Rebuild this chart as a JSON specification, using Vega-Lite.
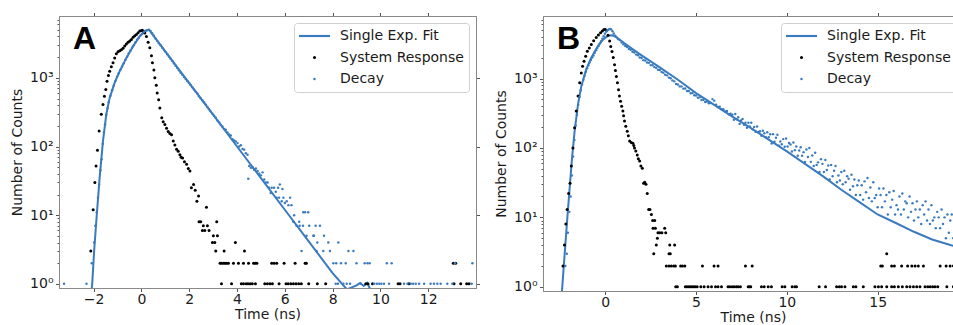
{
  "$schema": "https://vega.github.io/schema/vega-lite/v6.json",
  "padding": {"left": 10, "top": 11, "right": 0, "bottom": 0},
  "spacing": 13,
  "config": {
    "font": "DejaVu Sans",
    "view": {"stroke": "#888"},
    "axis": {"labelFont": "DejaVu Sans", "labelFontSize": 14, "labelColor": "#1a1a1a", "titleFont": "DejaVu Sans", "titleFontSize": 14, "titleFontWeight": "normal", "titleColor": "#1a1a1a", "tickColor": "#555", "tickSize": 3.5, "domainColor": "#888", "grid": false, "labelPadding": 2.5},
    "legend": {"orient": "top-right", "offset": 7, "padding": 5, "labelFont": "DejaVu Sans", "labelFontSize": 14, "labelColor": "#1a1a1a", "labelOffset": 10, "clipHeight": 16, "rowPadding": 5.5, "strokeColor": "#d0d0d0", "fillColor": "#ffffff", "cornerRadius": 3, "symbolStrokeWidth": 0},
    "title": {"font": "Liberation Sans", "fontSize": 32, "fontWeight": "bold", "color": "#000", "anchor": "start", "frame": "group", "baseline": "alphabetic", "offset": 0}
  },
  "datasets": {
    "A_fit": [
      {"time": -2.09, "counts": 0.8}, {"time": -2.06, "counts": 1}, {"time": -1.98, "counts": 3}, {"time": -1.87, "counts": 10}, {"time": -1.75, "counts": 35}, {"time": -1.61, "counts": 120}, {"time": -1.47, "counts": 295}, {"time": -1.33, "counts": 510}, {"time": -1.12, "counts": 850}, {"time": -0.91, "counts": 1250}, {"time": -0.63, "counts": 1950}, {"time": -0.35, "counts": 2880}, {"time": -0.07, "counts": 4050}, {"time": 0.1, "counts": 4600}, {"time": 0.21, "counts": 4900}, {"time": 0.32, "counts": 5000}, {"time": 0.5, "counts": 4120}, {"time": 0.77, "counts": 3090}, {"time": 1.5, "counts": 1424}, {"time": 2.0, "counts": 838}, {"time": 3.0, "counts": 290}, {"time": 4.0, "counts": 100}, {"time": 5.0, "counts": 34.7}, {"time": 6.0, "counts": 12}, {"time": 7.0, "counts": 4.15}, {"time": 8.0, "counts": 1.43}, {"time": 8.6, "counts": 0.83}, {"time": 9.0, "counts": 0.95}, {"time": 9.15, "counts": 1.03}, {"time": 9.3, "counts": 0.93}, {"time": 9.45, "counts": 1.03}, {"time": 9.6, "counts": 0.8}
    ],
    "A_pts": [
      {"series": "System Response", "time": -2.12, "counts": 3}, {"series": "System Response", "time": -2.02, "counts": 12}, {"series": "System Response", "time": -1.95, "counts": 30}, {"series": "System Response", "time": -1.9, "counts": 52}, {"series": "System Response", "time": -1.84, "counts": 88}, {"series": "System Response", "time": -1.77, "counts": 168}, {"series": "System Response", "time": -1.68, "counts": 294}, {"series": "System Response", "time": -1.61, "counts": 409}, {"series": "System Response", "time": -1.55, "counts": 540}, {"series": "System Response", "time": -1.49, "counts": 676}, {"series": "System Response", "time": -1.44, "counts": 895}, {"series": "System Response", "time": -1.38, "counts": 1080}, {"series": "System Response", "time": -1.33, "counts": 1250}, {"series": "System Response", "time": -1.26, "counts": 1450}, {"series": "System Response", "time": -1.19, "counts": 1660}, {"series": "System Response", "time": -1.12, "counts": 1950}, {"series": "System Response", "time": -1.05, "counts": 2240}, {"series": "System Response", "time": -0.98, "counts": 2400}, {"series": "System Response", "time": -0.91, "counts": 2480}, {"series": "System Response", "time": -0.84, "counts": 2570}, {"series": "System Response", "time": -0.77, "counts": 2700}, {"series": "System Response", "time": -0.7, "counts": 2900}, {"series": "System Response", "time": -0.63, "counts": 3100}, {"series": "System Response", "time": -0.56, "counts": 3300}, {"series": "System Response", "time": -0.49, "counts": 3450}, {"series": "System Response", "time": -0.42, "counts": 3630}, {"series": "System Response", "time": -0.35, "counts": 3900}, {"series": "System Response", "time": -0.28, "counts": 4100}, {"series": "System Response", "time": -0.21, "counts": 4270}, {"series": "System Response", "time": -0.14, "counts": 4550}, {"series": "System Response", "time": -0.07, "counts": 4790}, {"series": "System Response", "time": 0.0, "counts": 4900}, {"series": "System Response", "time": 0.04, "counts": 4950}, {"series": "System Response", "time": 0.1, "counts": 4700}, {"series": "System Response", "time": 0.14, "counts": 4500}, {"series": "System Response", "time": 0.21, "counts": 4000}, {"series": "System Response", "time": 0.28, "counts": 3300}, {"series": "System Response", "time": 0.35, "counts": 2750}, {"series": "System Response", "time": 0.42, "counts": 2100}, {"series": "System Response", "time": 0.46, "counts": 1660}, {"series": "System Response", "time": 0.52, "counts": 1300}, {"series": "System Response", "time": 0.56, "counts": 1000}, {"series": "System Response", "time": 0.62, "counts": 780}, {"series": "System Response", "time": 0.66, "counts": 600}, {"series": "System Response", "time": 0.72, "counts": 480}, {"series": "System Response", "time": 0.77, "counts": 365}, {"series": "System Response", "time": 0.85, "counts": 263}, {"series": "System Response", "time": 0.91, "counts": 230}, {"series": "System Response", "time": 0.98, "counts": 209}, {"series": "System Response", "time": 1.05, "counts": 185}, {"series": "System Response", "time": 1.12, "counts": 166}, {"series": "System Response", "time": 1.19, "counts": 155}, {"series": "System Response", "time": 1.26, "counts": 148}, {"series": "System Response", "time": 1.33, "counts": 120}, {"series": "System Response", "time": 1.4, "counts": 105}, {"series": "System Response", "time": 1.47, "counts": 91}, {"series": "System Response", "time": 1.54, "counts": 85}, {"series": "System Response", "time": 1.61, "counts": 76}, {"series": "System Response", "time": 1.66, "counts": 70}, {"series": "System Response", "time": 1.72, "counts": 68}, {"series": "System Response", "time": 1.8, "counts": 60}, {"series": "System Response", "time": 1.89, "counts": 55}, {"series": "System Response", "time": 1.96, "counts": 48}, {"series": "System Response", "time": 2.03, "counts": 44}, {"series": "System Response", "time": 2.09, "counts": 25}, {"series": "System Response", "time": 2.18, "counts": 28}, {"series": "System Response", "time": 2.25, "counts": 23}, {"series": "System Response", "time": 2.32, "counts": 16}, {"series": "System Response", "time": 2.39, "counts": 19}, {"series": "System Response", "time": 2.41, "counts": 8}, {"series": "System Response", "time": 2.48, "counts": 8}, {"series": "System Response", "time": 2.55, "counts": 6}, {"series": "System Response", "time": 2.59, "counts": 7}, {"series": "System Response", "time": 2.65, "counts": 6}, {"series": "System Response", "time": 2.72, "counts": 13}, {"series": "System Response", "time": 2.76, "counts": 7}, {"series": "System Response", "time": 2.83, "counts": 6}, {"series": "System Response", "time": 2.97, "counts": 4}, {"series": "System Response", "time": 3.01, "counts": 5}, {"series": "System Response", "time": 3.07, "counts": 4}, {"series": "System Response", "time": 3.11, "counts": 3}, {"series": "System Response", "time": 3.15, "counts": 8}, {"series": "System Response", "time": 3.18, "counts": 5}, {"series": "System Response", "time": 3.46, "counts": 3}, {"series": "System Response", "time": 3.93, "counts": 4}, {"series": "System Response", "time": 4.31, "counts": 3},
      {"series": "System Response", "time": 3.29, "counts": 2}, {"series": "System Response", "time": 3.36, "counts": 2}, {"series": "System Response", "time": 3.43, "counts": 2}, {"series": "System Response", "time": 3.5, "counts": 2}, {"series": "System Response", "time": 3.57, "counts": 2}, {"series": "System Response", "time": 3.64, "counts": 2}, {"series": "System Response", "time": 3.85, "counts": 2}, {"series": "System Response", "time": 4.06, "counts": 2}, {"series": "System Response", "time": 4.27, "counts": 2}, {"series": "System Response", "time": 4.48, "counts": 2}, {"series": "System Response", "time": 4.69, "counts": 2}, {"series": "System Response", "time": 4.76, "counts": 2}, {"series": "System Response", "time": 4.83, "counts": 2}, {"series": "System Response", "time": 5.45, "counts": 2}, {"series": "System Response", "time": 5.55, "counts": 2}, {"series": "System Response", "time": 5.66, "counts": 2}, {"series": "System Response", "time": 5.97, "counts": 2}, {"series": "System Response", "time": 6.43, "counts": 2}, {"series": "System Response", "time": 6.85, "counts": 2}, {"series": "System Response", "time": 6.9, "counts": 2}, {"series": "System Response", "time": 13.05, "counts": 2}, {"series": "System Response", "time": 13.15, "counts": 2},
      {"series": "System Response", "time": 3.35, "counts": 1}, {"series": "System Response", "time": 3.77, "counts": 1}, {"series": "System Response", "time": 4.18, "counts": 1}, {"series": "System Response", "time": 4.27, "counts": 1}, {"series": "System Response", "time": 4.38, "counts": 1}, {"series": "System Response", "time": 4.46, "counts": 1}, {"series": "System Response", "time": 4.55, "counts": 1}, {"series": "System Response", "time": 4.64, "counts": 1}, {"series": "System Response", "time": 4.77, "counts": 1}, {"series": "System Response", "time": 5.16, "counts": 1}, {"series": "System Response", "time": 5.27, "counts": 1}, {"series": "System Response", "time": 5.38, "counts": 1}, {"series": "System Response", "time": 5.48, "counts": 1}, {"series": "System Response", "time": 5.76, "counts": 1}, {"series": "System Response", "time": 6.05, "counts": 1}, {"series": "System Response", "time": 6.14, "counts": 1}, {"series": "System Response", "time": 6.25, "counts": 1}, {"series": "System Response", "time": 6.36, "counts": 1}, {"series": "System Response", "time": 6.47, "counts": 1}, {"series": "System Response", "time": 6.58, "counts": 1}, {"series": "System Response", "time": 6.69, "counts": 1}, {"series": "System Response", "time": 7.0, "counts": 1}, {"series": "System Response", "time": 7.36, "counts": 1}, {"series": "System Response", "time": 7.71, "counts": 1}, {"series": "System Response", "time": 9.39, "counts": 1}, {"series": "System Response", "time": 9.48, "counts": 1}, {"series": "System Response", "time": 9.67, "counts": 1}, {"series": "System Response", "time": 10.74, "counts": 1}, {"series": "System Response", "time": 10.82, "counts": 1}, {"series": "System Response", "time": 11.2, "counts": 1}, {"series": "System Response", "time": 13.08, "counts": 1}, {"series": "System Response", "time": 13.36, "counts": 1}, {"series": "System Response", "time": 13.61, "counts": 1}, {"series": "System Response", "time": 13.71, "counts": 1},
      {"series": "Decay", "time": -3.24, "counts": 1}, {"series": "Decay", "time": -2.3, "counts": 1}, {"series": "Decay", "time": -2.08, "counts": 2}, {"series": "Decay", "time": -1.98, "counts": 4}, {"series": "Decay", "time": -1.93, "counts": 7}, {"series": "Decay", "time": -1.87, "counts": 11}, {"series": "Decay", "time": -1.82, "counts": 18}, {"series": "Decay", "time": -1.77, "counts": 28}, {"series": "Decay", "time": -1.72, "counts": 45}, {"series": "Decay", "time": -1.67, "counts": 65}, {"series": "Decay", "time": -1.62, "counts": 110}, {"series": "Decay", "time": -1.57, "counts": 160}, {"series": "Decay", "time": -1.52, "counts": 210}, {"series": "Decay", "time": -1.47, "counts": 290}, {"series": "Decay", "time": -1.42, "counts": 360}, {"series": "Decay", "time": -1.37, "counts": 440}, {"series": "Decay", "time": -1.3, "counts": 550}, {"series": "Decay", "time": -1.23, "counts": 660}, {"series": "Decay", "time": -1.16, "counts": 770}, {"series": "Decay", "time": -1.09, "counts": 900}, {"series": "Decay", "time": -1.02, "counts": 1040}, {"series": "Decay", "time": -0.95, "counts": 1170}, {"series": "Decay", "time": -0.88, "counts": 1310}, {"series": "Decay", "time": -0.81, "counts": 1460}, {"series": "Decay", "time": -0.74, "counts": 1630}, {"series": "Decay", "time": -0.67, "counts": 1830}, {"series": "Decay", "time": -0.6, "counts": 2030}, {"series": "Decay", "time": -0.53, "counts": 2280}, {"series": "Decay", "time": -0.46, "counts": 2500}, {"series": "Decay", "time": -0.39, "counts": 2750}, {"series": "Decay", "time": -0.32, "counts": 2990}, {"series": "Decay", "time": -0.25, "counts": 3300}, {"series": "Decay", "time": -0.18, "counts": 3600}, {"series": "Decay", "time": -0.11, "counts": 3850}, {"series": "Decay", "time": -0.04, "counts": 4150}, {"series": "Decay", "time": 0.03, "counts": 4400}, {"series": "Decay", "time": 0.1, "counts": 4650}, {"series": "Decay", "time": 0.17, "counts": 4850}, {"series": "Decay", "time": 0.24, "counts": 4950}, {"series": "Decay", "time": 0.31, "counts": 5000}, {"series": "Decay", "time": 0.38, "counts": 4800}, {"series": "Decay", "time": 0.45, "counts": 4450}, {"series": "Decay", "time": 0.52, "counts": 4100}, {"series": "Decay", "time": 0.59, "counts": 3750}, {"series": "Decay", "time": 0.66, "counts": 3450}, {"series": "Decay", "time": 0.73, "counts": 3200}, {"series": "Decay", "time": 0.8, "counts": 2980}, {"series": "Decay", "time": 0.87, "counts": 2750}, {"series": "Decay", "time": 0.94, "counts": 2550}, {"series": "Decay", "time": 1.01, "counts": 2370}, {"series": "Decay", "time": 1.08, "counts": 2200}, {"series": "Decay", "time": 1.15, "counts": 2050}, {"series": "Decay", "time": 1.22, "counts": 1900}, {"series": "Decay", "time": 1.29, "counts": 1760}, {"series": "Decay", "time": 1.36, "counts": 1630}, {"series": "Decay", "time": 1.43, "counts": 1500}, {"series": "Decay", "time": 1.5, "counts": 1390}, {"series": "Decay", "time": 1.57, "counts": 1290}, {"series": "Decay", "time": 1.64, "counts": 1190}, {"series": "Decay", "time": 1.71, "counts": 1110}, {"series": "Decay", "time": 1.78, "counts": 1030}, {"series": "Decay", "time": 1.85, "counts": 960}, {"series": "Decay", "time": 1.92, "counts": 900}, {"series": "Decay", "time": 1.99, "counts": 840}, {"series": "Decay", "time": 2.06, "counts": 785}, {"series": "Decay", "time": 2.13, "counts": 730}, {"series": "Decay", "time": 2.2, "counts": 675}, {"series": "Decay", "time": 2.27, "counts": 630}, {"series": "Decay", "time": 2.34, "counts": 590}, {"series": "Decay", "time": 2.41, "counts": 540}, {"series": "Decay", "time": 2.48, "counts": 505}, {"series": "Decay", "time": 2.55, "counts": 470}, {"series": "Decay", "time": 2.62, "counts": 440}, {"series": "Decay", "time": 2.69, "counts": 405}, {"series": "Decay", "time": 2.76, "counts": 375}, {"series": "Decay", "time": 2.83, "counts": 350}, {"series": "Decay", "time": 2.9, "counts": 325}, {"series": "Decay", "time": 2.97, "counts": 300}, {"series": "Decay", "time": 3.04, "counts": 280}, {"series": "Decay", "time": 3.11, "counts": 262}, {"series": "Decay", "time": 3.18, "counts": 240}, {"series": "Decay", "time": 3.25, "counts": 226}, {"series": "Decay", "time": 3.32, "counts": 208}, {"series": "Decay", "time": 3.39, "counts": 195}, {"series": "Decay", "time": 3.46, "counts": 180}, {"series": "Decay", "time": 3.53, "counts": 175}, {"series": "Decay", "time": 3.6, "counts": 160}, {"series": "Decay", "time": 3.67, "counts": 150}, {"series": "Decay", "time": 3.74, "counts": 145}, {"series": "Decay", "time": 3.81, "counts": 128}, {"series": "Decay", "time": 3.88, "counts": 122}, {"series": "Decay", "time": 3.95, "counts": 118}, {"series": "Decay", "time": 4.02, "counts": 112}, {"series": "Decay", "time": 4.09, "counts": 100}, {"series": "Decay", "time": 4.16, "counts": 104}, {"series": "Decay", "time": 4.23, "counts": 92}, {"series": "Decay", "time": 4.3, "counts": 90}, {"series": "Decay", "time": 4.37, "counts": 80}, {"series": "Decay", "time": 4.44, "counts": 76}, {"series": "Decay", "time": 4.47, "counts": 34}, {"series": "Decay", "time": 4.51, "counts": 52}, {"series": "Decay", "time": 4.58, "counts": 49}, {"series": "Decay", "time": 4.65, "counts": 50}, {"series": "Decay", "time": 4.72, "counts": 46}, {"series": "Decay", "time": 4.79, "counts": 48}, {"series": "Decay", "time": 4.86, "counts": 44}, {"series": "Decay", "time": 4.93, "counts": 40}, {"series": "Decay", "time": 5.0, "counts": 38}, {"series": "Decay", "time": 5.07, "counts": 42}, {"series": "Decay", "time": 5.14, "counts": 33}, {"series": "Decay", "time": 5.21, "counts": 30}, {"series": "Decay", "time": 5.28, "counts": 30}, {"series": "Decay", "time": 5.34, "counts": 25}, {"series": "Decay", "time": 5.41, "counts": 21}, {"series": "Decay", "time": 5.45, "counts": 25}, {"series": "Decay", "time": 5.55, "counts": 25}, {"series": "Decay", "time": 5.62, "counts": 22}, {"series": "Decay", "time": 5.66, "counts": 18}, {"series": "Decay", "time": 5.72, "counts": 25}, {"series": "Decay", "time": 5.76, "counts": 18}, {"series": "Decay", "time": 5.79, "counts": 28}, {"series": "Decay", "time": 5.87, "counts": 16}, {"series": "Decay", "time": 5.9, "counts": 24}, {"series": "Decay", "time": 5.94, "counts": 18}, {"series": "Decay", "time": 6.0, "counts": 15}, {"series": "Decay", "time": 6.08, "counts": 16}, {"series": "Decay", "time": 6.15, "counts": 14}, {"series": "Decay", "time": 6.22, "counts": 18}, {"series": "Decay", "time": 6.28, "counts": 14}, {"series": "Decay", "time": 6.35, "counts": 8}, {"series": "Decay", "time": 6.39, "counts": 10}, {"series": "Decay", "time": 6.49, "counts": 7}, {"series": "Decay", "time": 6.6, "counts": 8}, {"series": "Decay", "time": 6.62, "counts": 7}, {"series": "Decay", "time": 6.7, "counts": 3}, {"series": "Decay", "time": 6.76, "counts": 7}, {"series": "Decay", "time": 6.77, "counts": 11}, {"series": "Decay", "time": 6.85, "counts": 11}, {"series": "Decay", "time": 6.91, "counts": 5}, {"series": "Decay", "time": 6.98, "counts": 11}, {"series": "Decay", "time": 7.02, "counts": 7}, {"series": "Decay", "time": 7.19, "counts": 5}, {"series": "Decay", "time": 7.22, "counts": 5}, {"series": "Decay", "time": 7.29, "counts": 7}, {"series": "Decay", "time": 7.33, "counts": 3}, {"series": "Decay", "time": 7.36, "counts": 4}, {"series": "Decay", "time": 7.47, "counts": 7}, {"series": "Decay", "time": 7.61, "counts": 3}, {"series": "Decay", "time": 7.64, "counts": 5}, {"series": "Decay", "time": 7.82, "counts": 4}, {"series": "Decay", "time": 7.89, "counts": 3}, {"series": "Decay", "time": 8.24, "counts": 4}, {"series": "Decay", "time": 8.66, "counts": 3}, {"series": "Decay", "time": 8.87, "counts": 3},
      {"series": "Decay", "time": 8.03, "counts": 2}, {"series": "Decay", "time": 8.15, "counts": 2}, {"series": "Decay", "time": 8.35, "counts": 2}, {"series": "Decay", "time": 8.55, "counts": 2}, {"series": "Decay", "time": 9.0, "counts": 2}, {"series": "Decay", "time": 9.34, "counts": 2}, {"series": "Decay", "time": 9.46, "counts": 2}, {"series": "Decay", "time": 9.55, "counts": 2}, {"series": "Decay", "time": 10.27, "counts": 2}, {"series": "Decay", "time": 10.47, "counts": 2}, {"series": "Decay", "time": 13.12, "counts": 2}, {"series": "Decay", "time": 13.85, "counts": 2},
      {"series": "Decay", "time": 8.13, "counts": 1}, {"series": "Decay", "time": 8.22, "counts": 1}, {"series": "Decay", "time": 8.45, "counts": 1}, {"series": "Decay", "time": 8.59, "counts": 1}, {"series": "Decay", "time": 8.73, "counts": 1}, {"series": "Decay", "time": 9.18, "counts": 1}, {"series": "Decay", "time": 9.74, "counts": 1}, {"series": "Decay", "time": 9.85, "counts": 1}, {"series": "Decay", "time": 9.95, "counts": 1}, {"series": "Decay", "time": 10.04, "counts": 1}, {"series": "Decay", "time": 10.15, "counts": 1}, {"series": "Decay", "time": 10.36, "counts": 1}, {"series": "Decay", "time": 10.99, "counts": 1}, {"series": "Decay", "time": 11.13, "counts": 1}, {"series": "Decay", "time": 11.27, "counts": 1}, {"series": "Decay", "time": 11.37, "counts": 1}, {"series": "Decay", "time": 11.48, "counts": 1}, {"series": "Decay", "time": 11.62, "counts": 1}, {"series": "Decay", "time": 11.83, "counts": 1}, {"series": "Decay", "time": 12.1, "counts": 1}, {"series": "Decay", "time": 12.24, "counts": 1}, {"series": "Decay", "time": 12.38, "counts": 1}, {"series": "Decay", "time": 12.52, "counts": 1}, {"series": "Decay", "time": 12.8, "counts": 1}, {"series": "Decay", "time": 13.01, "counts": 1}, {"series": "Decay", "time": 13.82, "counts": 1}
    ],
    "B_fit": [
      {"time": -2.385, "counts": 0.87}, {"time": -2.24, "counts": 2.9}, {"time": -2.09, "counts": 9.8}, {"time": -1.96, "counts": 27}, {"time": -1.83, "counts": 72}, {"time": -1.69, "counts": 174}, {"time": -1.5, "counts": 427}, {"time": -1.32, "counts": 776}, {"time": -1.05, "counts": 1350}, {"time": -0.77, "counts": 2000}, {"time": -0.4, "counts": 2950}, {"time": -0.13, "counts": 3630}, {"time": 0.06, "counts": 3980}, {"time": 0.24, "counts": 4170}, {"time": 0.4, "counts": 4200}, {"time": 0.6, "counts": 3950}, {"time": 1.0, "counts": 3300}, {"time": 1.5, "counts": 2650}, {"time": 2.0, "counts": 2150}, {"time": 3.0, "counts": 1450}, {"time": 4.0, "counts": 960}, {"time": 5.0, "counts": 617}, {"time": 6.0, "counts": 417}, {"time": 7.0, "counts": 282}, {"time": 8.0, "counts": 195}, {"time": 9.0, "counts": 132}, {"time": 10.0, "counts": 89}, {"time": 11.0, "counts": 59}, {"time": 12.0, "counts": 39}, {"time": 13.0, "counts": 25}, {"time": 14.0, "counts": 16.6}, {"time": 15.0, "counts": 11}, {"time": 16.0, "counts": 8.3}, {"time": 17.0, "counts": 6.2}, {"time": 18.0, "counts": 4.8}, {"time": 19.0, "counts": 4.0}, {"time": 19.7, "counts": 3.6}
    ],
    "B_pts": [
      {"series": "System Response", "time": -2.33, "counts": 2}, {"series": "System Response", "time": -2.25, "counts": 4}, {"series": "System Response", "time": -2.17, "counts": 8}, {"series": "System Response", "time": -2.1, "counts": 13}, {"series": "System Response", "time": -2.02, "counts": 22}, {"series": "System Response", "time": -1.94, "counts": 31}, {"series": "System Response", "time": -1.87, "counts": 55}, {"series": "System Response", "time": -1.78, "counts": 100}, {"series": "System Response", "time": -1.69, "counts": 195}, {"series": "System Response", "time": -1.6, "counts": 340}, {"series": "System Response", "time": -1.5, "counts": 560}, {"series": "System Response", "time": -1.41, "counts": 870}, {"series": "System Response", "time": -1.32, "counts": 1200}, {"series": "System Response", "time": -1.25, "counts": 1500}, {"series": "System Response", "time": -1.17, "counts": 1780}, {"series": "System Response", "time": -1.08, "counts": 2100}, {"series": "System Response", "time": -0.99, "counts": 2460}, {"series": "System Response", "time": -0.88, "counts": 2750}, {"series": "System Response", "time": -0.77, "counts": 3090}, {"series": "System Response", "time": -0.64, "counts": 3500}, {"series": "System Response", "time": -0.5, "counts": 3890}, {"series": "System Response", "time": -0.38, "counts": 4250}, {"series": "System Response", "time": -0.26, "counts": 4570}, {"series": "System Response", "time": -0.16, "counts": 4850}, {"series": "System Response", "time": -0.07, "counts": 5100}, {"series": "System Response", "time": 0.0, "counts": 5100}, {"series": "System Response", "time": 0.06, "counts": 4900}, {"series": "System Response", "time": 0.15, "counts": 4200}, {"series": "System Response", "time": 0.24, "counts": 3470}, {"series": "System Response", "time": 0.3, "counts": 2900}, {"series": "System Response", "time": 0.37, "counts": 2450}, {"series": "System Response", "time": 0.44, "counts": 2000}, {"series": "System Response", "time": 0.51, "counts": 1580}, {"series": "System Response", "time": 0.56, "counts": 1300}, {"series": "System Response", "time": 0.61, "counts": 1070}, {"series": "System Response", "time": 0.67, "counts": 870}, {"series": "System Response", "time": 0.73, "counts": 690}, {"series": "System Response", "time": 0.78, "counts": 560}, {"series": "System Response", "time": 0.84, "counts": 470}, {"series": "System Response", "time": 0.9, "counts": 400}, {"series": "System Response", "time": 0.97, "counts": 340}, {"series": "System Response", "time": 1.01, "counts": 290}, {"series": "System Response", "time": 1.06, "counts": 245}, {"series": "System Response", "time": 1.13, "counts": 205}, {"series": "System Response", "time": 1.21, "counts": 174}, {"series": "System Response", "time": 1.27, "counts": 150}, {"series": "System Response", "time": 1.34, "counts": 126}, {"series": "System Response", "time": 1.43, "counts": 120}, {"series": "System Response", "time": 1.52, "counts": 117}, {"series": "System Response", "time": 1.57, "counts": 108}, {"series": "System Response", "time": 1.61, "counts": 100}, {"series": "System Response", "time": 1.68, "counts": 90}, {"series": "System Response", "time": 1.76, "counts": 79}, {"series": "System Response", "time": 1.82, "counts": 70}, {"series": "System Response", "time": 1.89, "counts": 65}, {"series": "System Response", "time": 1.96, "counts": 55}, {"series": "System Response", "time": 2.04, "counts": 51}, {"series": "System Response", "time": 2.11, "counts": 31}, {"series": "System Response", "time": 2.17, "counts": 32}, {"series": "System Response", "time": 2.24, "counts": 30}, {"series": "System Response", "time": 2.31, "counts": 22}, {"series": "System Response", "time": 2.39, "counts": 13}, {"series": "System Response", "time": 2.46, "counts": 13}, {"series": "System Response", "time": 2.54, "counts": 11}, {"series": "System Response", "time": 2.61, "counts": 9}, {"series": "System Response", "time": 2.72, "counts": 9}, {"series": "System Response", "time": 2.63, "counts": 7}, {"series": "System Response", "time": 2.76, "counts": 7}, {"series": "System Response", "time": 2.67, "counts": 3}, {"series": "System Response", "time": 2.81, "counts": 4}, {"series": "System Response", "time": 2.87, "counts": 5}, {"series": "System Response", "time": 2.9, "counts": 6}, {"series": "System Response", "time": 3.0, "counts": 6}, {"series": "System Response", "time": 3.12, "counts": 6}, {"series": "System Response", "time": 3.27, "counts": 7}, {"series": "System Response", "time": 3.33, "counts": 6}, {"series": "System Response", "time": 3.51, "counts": 3}, {"series": "System Response", "time": 3.55, "counts": 4}, {"series": "System Response", "time": 3.58, "counts": 3}, {"series": "System Response", "time": 3.82, "counts": 4}, {"series": "System Response", "time": 15.5, "counts": 3},
      {"series": "System Response", "time": 3.36, "counts": 2}, {"series": "System Response", "time": 3.51, "counts": 2}, {"series": "System Response", "time": 3.64, "counts": 2}, {"series": "System Response", "time": 3.77, "counts": 2}, {"series": "System Response", "time": 3.86, "counts": 2}, {"series": "System Response", "time": 4.15, "counts": 2}, {"series": "System Response", "time": 4.25, "counts": 2}, {"series": "System Response", "time": 4.38, "counts": 2}, {"series": "System Response", "time": 5.35, "counts": 2}, {"series": "System Response", "time": 5.99, "counts": 2}, {"series": "System Response", "time": 6.21, "counts": 2}, {"series": "System Response", "time": 7.72, "counts": 2}, {"series": "System Response", "time": 8.09, "counts": 2}, {"series": "System Response", "time": 15.17, "counts": 2}, {"series": "System Response", "time": 15.26, "counts": 2}, {"series": "System Response", "time": 15.77, "counts": 2}, {"series": "System Response", "time": 15.92, "counts": 2}, {"series": "System Response", "time": 16.32, "counts": 2}, {"series": "System Response", "time": 16.65, "counts": 2}, {"series": "System Response", "time": 16.88, "counts": 2}, {"series": "System Response", "time": 17.06, "counts": 2}, {"series": "System Response", "time": 17.24, "counts": 2}, {"series": "System Response", "time": 17.52, "counts": 2}, {"series": "System Response", "time": 18.44, "counts": 2}, {"series": "System Response", "time": 18.77, "counts": 2}, {"series": "System Response", "time": 18.99, "counts": 2}, {"series": "System Response", "time": 19.17, "counts": 2},
      {"series": "System Response", "time": 3.88, "counts": 1}, {"series": "System Response", "time": 3.97, "counts": 1}, {"series": "System Response", "time": 4.41, "counts": 1}, {"series": "System Response", "time": 4.5, "counts": 1}, {"series": "System Response", "time": 4.6, "counts": 1}, {"series": "System Response", "time": 4.69, "counts": 1}, {"series": "System Response", "time": 4.78, "counts": 1}, {"series": "System Response", "time": 4.87, "counts": 1}, {"series": "System Response", "time": 4.96, "counts": 1}, {"series": "System Response", "time": 5.06, "counts": 1}, {"series": "System Response", "time": 5.26, "counts": 1}, {"series": "System Response", "time": 5.44, "counts": 1}, {"series": "System Response", "time": 5.66, "counts": 1}, {"series": "System Response", "time": 5.85, "counts": 1}, {"series": "System Response", "time": 6.07, "counts": 1}, {"series": "System Response", "time": 6.21, "counts": 1}, {"series": "System Response", "time": 6.4, "counts": 1}, {"series": "System Response", "time": 6.76, "counts": 1}, {"series": "System Response", "time": 6.86, "counts": 1}, {"series": "System Response", "time": 6.99, "counts": 1}, {"series": "System Response", "time": 7.1, "counts": 1}, {"series": "System Response", "time": 7.22, "counts": 1}, {"series": "System Response", "time": 7.32, "counts": 1}, {"series": "System Response", "time": 7.44, "counts": 1}, {"series": "System Response", "time": 7.87, "counts": 1}, {"series": "System Response", "time": 7.96, "counts": 1}, {"series": "System Response", "time": 8.01, "counts": 1}, {"series": "System Response", "time": 8.6, "counts": 1}, {"series": "System Response", "time": 8.75, "counts": 1}, {"series": "System Response", "time": 8.97, "counts": 1}, {"series": "System Response", "time": 9.15, "counts": 1}, {"series": "System Response", "time": 9.74, "counts": 1}, {"series": "System Response", "time": 9.89, "counts": 1}, {"series": "System Response", "time": 10.29, "counts": 1}, {"series": "System Response", "time": 10.44, "counts": 1}, {"series": "System Response", "time": 10.53, "counts": 1}, {"series": "System Response", "time": 11.78, "counts": 1}, {"series": "System Response", "time": 12.13, "counts": 1}, {"series": "System Response", "time": 12.74, "counts": 1}, {"series": "System Response", "time": 12.89, "counts": 1}, {"series": "System Response", "time": 13.01, "counts": 1}, {"series": "System Response", "time": 13.2, "counts": 1}, {"series": "System Response", "time": 13.66, "counts": 1}, {"series": "System Response", "time": 13.8, "counts": 1}, {"series": "System Response", "time": 14.21, "counts": 1}, {"series": "System Response", "time": 14.85, "counts": 1}, {"series": "System Response", "time": 15.04, "counts": 1}, {"series": "System Response", "time": 15.22, "counts": 1}, {"series": "System Response", "time": 15.5, "counts": 1}, {"series": "System Response", "time": 15.77, "counts": 1}, {"series": "System Response", "time": 15.92, "counts": 1}, {"series": "System Response", "time": 16.14, "counts": 1}, {"series": "System Response", "time": 16.36, "counts": 1}, {"series": "System Response", "time": 16.6, "counts": 1}, {"series": "System Response", "time": 16.78, "counts": 1}, {"series": "System Response", "time": 16.97, "counts": 1}, {"series": "System Response", "time": 17.15, "counts": 1}, {"series": "System Response", "time": 17.33, "counts": 1}, {"series": "System Response", "time": 17.61, "counts": 1}, {"series": "System Response", "time": 17.76, "counts": 1}, {"series": "System Response", "time": 17.89, "counts": 1}, {"series": "System Response", "time": 18.03, "counts": 1}, {"series": "System Response", "time": 18.16, "counts": 1}, {"series": "System Response", "time": 18.31, "counts": 1}, {"series": "System Response", "time": 18.81, "counts": 1}, {"series": "System Response", "time": 19.17, "counts": 1}, {"series": "System Response", "time": 19.4, "counts": 1}, {"series": "System Response", "time": 19.6, "counts": 1},
      {"series": "Decay", "time": -2.2, "counts": 2}, {"series": "Decay", "time": -2.12, "counts": 3}, {"series": "Decay", "time": -2.06, "counts": 6}, {"series": "Decay", "time": -1.98, "counts": 12}, {"series": "Decay", "time": -1.91, "counts": 20}, {"series": "Decay", "time": -1.84, "counts": 40}, {"series": "Decay", "time": -1.77, "counts": 75}, {"series": "Decay", "time": -1.7, "counts": 130}, {"series": "Decay", "time": -1.63, "counts": 210}, {"series": "Decay", "time": -1.56, "counts": 300}, {"series": "Decay", "time": -1.49, "counts": 420}, {"series": "Decay", "time": -1.42, "counts": 540}, {"series": "Decay", "time": -1.35, "counts": 680}, {"series": "Decay", "time": -1.28, "counts": 820}, {"series": "Decay", "time": -1.21, "counts": 960}, {"series": "Decay", "time": -1.14, "counts": 1100}, {"series": "Decay", "time": -1.07, "counts": 1250}, {"series": "Decay", "time": -1.0, "counts": 1400}, {"series": "Decay", "time": -0.93, "counts": 1550}, {"series": "Decay", "time": -0.86, "counts": 1700}, {"series": "Decay", "time": -0.79, "counts": 1850}, {"series": "Decay", "time": -0.72, "counts": 2000}, {"series": "Decay", "time": -0.65, "counts": 2150}, {"series": "Decay", "time": -0.58, "counts": 2350}, {"series": "Decay", "time": -0.51, "counts": 2550}, {"series": "Decay", "time": -0.44, "counts": 2750}, {"series": "Decay", "time": -0.37, "counts": 2950}, {"series": "Decay", "time": -0.3, "counts": 3200}, {"series": "Decay", "time": -0.23, "counts": 3450}, {"series": "Decay", "time": -0.16, "counts": 3750}, {"series": "Decay", "time": -0.09, "counts": 4050}, {"series": "Decay", "time": -0.02, "counts": 4400}, {"series": "Decay", "time": 0.05, "counts": 4700}, {"series": "Decay", "time": 0.12, "counts": 4950}, {"series": "Decay", "time": 0.19, "counts": 5100}, {"series": "Decay", "time": 0.26, "counts": 5150}, {"series": "Decay", "time": 0.33, "counts": 5100}, {"series": "Decay", "time": 0.4, "counts": 4800}, {"series": "Decay", "time": 0.47, "counts": 4450}, {"series": "Decay", "time": 0.54, "counts": 4150},
      {"series": "Decay", "time": 0.6, "counts": 3980}, {"series": "Decay", "time": 0.7, "counts": 3700}, {"series": "Decay", "time": 0.8, "counts": 3580}, {"series": "Decay", "time": 0.9, "counts": 3290}, {"series": "Decay", "time": 1.0, "counts": 3120}, {"series": "Decay", "time": 1.1, "counts": 2930}, {"series": "Decay", "time": 1.2, "counts": 2850}, {"series": "Decay", "time": 1.3, "counts": 2660}, {"series": "Decay", "time": 1.4, "counts": 2590}, {"series": "Decay", "time": 1.5, "counts": 2430}, {"series": "Decay", "time": 1.6, "counts": 2370}, {"series": "Decay", "time": 1.7, "counts": 2210}, {"series": "Decay", "time": 1.8, "counts": 2160}, {"series": "Decay", "time": 1.9, "counts": 2010}, {"series": "Decay", "time": 2.0, "counts": 1970}, {"series": "Decay", "time": 2.1, "counts": 1840}, {"series": "Decay", "time": 2.2, "counts": 1820}, {"series": "Decay", "time": 2.3, "counts": 1700}, {"series": "Decay", "time": 2.4, "counts": 1680}, {"series": "Decay", "time": 2.5, "counts": 1560}, {"series": "Decay", "time": 2.6, "counts": 1550}, {"series": "Decay", "time": 2.7, "counts": 1460}, {"series": "Decay", "time": 2.8, "counts": 1430}, {"series": "Decay", "time": 2.9, "counts": 1340}, {"series": "Decay", "time": 3.0, "counts": 1330}, {"series": "Decay", "time": 3.1, "counts": 1240}, {"series": "Decay", "time": 3.2, "counts": 1210}, {"series": "Decay", "time": 3.3, "counts": 1130}, {"series": "Decay", "time": 3.4, "counts": 1110}, {"series": "Decay", "time": 3.5, "counts": 1030}, {"series": "Decay", "time": 3.6, "counts": 1010}, {"series": "Decay", "time": 3.7, "counts": 940}, {"series": "Decay", "time": 3.8, "counts": 910}, {"series": "Decay", "time": 3.9, "counts": 835}, {"series": "Decay", "time": 4.0, "counts": 820}, {"series": "Decay", "time": 4.1, "counts": 770}, {"series": "Decay", "time": 4.2, "counts": 770}, {"series": "Decay", "time": 4.3, "counts": 715}, {"series": "Decay", "time": 4.4, "counts": 720}, {"series": "Decay", "time": 4.5, "counts": 660}, {"series": "Decay", "time": 4.6, "counts": 660}, {"series": "Decay", "time": 4.7, "counts": 615}, {"series": "Decay", "time": 4.8, "counts": 620}, {"series": "Decay", "time": 4.9, "counts": 575}, {"series": "Decay", "time": 5.0, "counts": 570}, {"series": "Decay", "time": 5.1, "counts": 530}, {"series": "Decay", "time": 5.2, "counts": 535}, {"series": "Decay", "time": 5.3, "counts": 490}, {"series": "Decay", "time": 5.4, "counts": 495}, {"series": "Decay", "time": 5.5, "counts": 460}, {"series": "Decay", "time": 5.6, "counts": 465}, {"series": "Decay", "time": 5.7, "counts": 440}, {"series": "Decay", "time": 5.8, "counts": 445}, {"series": "Decay", "time": 5.9, "counts": 505}, {"series": "Decay", "time": 6.0, "counts": 480}, {"series": "Decay", "time": 6.1, "counts": 420}, {"series": "Decay", "time": 6.2, "counts": 390}, {"series": "Decay", "time": 6.3, "counts": 392}, {"series": "Decay", "time": 6.4, "counts": 362}, {"series": "Decay", "time": 6.5, "counts": 362}, {"series": "Decay", "time": 6.6, "counts": 335}, {"series": "Decay", "time": 6.7, "counts": 340}, {"series": "Decay", "time": 6.8, "counts": 305}, {"series": "Decay", "time": 6.9, "counts": 310},
      {"series": "Decay", "time": 7.0, "counts": 301}, {"series": "Decay", "time": 7.08, "counts": 255}, {"series": "Decay", "time": 7.16, "counts": 309}, {"series": "Decay", "time": 7.24, "counts": 258}, {"series": "Decay", "time": 7.32, "counts": 277}, {"series": "Decay", "time": 7.4, "counts": 222}, {"series": "Decay", "time": 7.48, "counts": 248}, {"series": "Decay", "time": 7.56, "counts": 262}, {"series": "Decay", "time": 7.64, "counts": 216}, {"series": "Decay", "time": 7.72, "counts": 231}, {"series": "Decay", "time": 7.8, "counts": 196}, {"series": "Decay", "time": 7.88, "counts": 231}, {"series": "Decay", "time": 7.96, "counts": 204}, {"series": "Decay", "time": 8.04, "counts": 230}, {"series": "Decay", "time": 8.12, "counts": 186}, {"series": "Decay", "time": 8.2, "counts": 201}, {"series": "Decay", "time": 8.28, "counts": 171}, {"series": "Decay", "time": 8.36, "counts": 203}, {"series": "Decay", "time": 8.44, "counts": 170}, {"series": "Decay", "time": 8.52, "counts": 174}, {"series": "Decay", "time": 8.6, "counts": 150}, {"series": "Decay", "time": 8.68, "counts": 177}, {"series": "Decay", "time": 8.76, "counts": 163}, {"series": "Decay", "time": 8.84, "counts": 143}, {"series": "Decay", "time": 8.92, "counts": 168}, {"series": "Decay", "time": 9.0, "counts": 143}, {"series": "Decay", "time": 9.08, "counts": 157}, {"series": "Decay", "time": 9.16, "counts": 116}, {"series": "Decay", "time": 9.24, "counts": 158}, {"series": "Decay", "time": 9.32, "counts": 123}, {"series": "Decay", "time": 9.4, "counts": 140}, {"series": "Decay", "time": 9.48, "counts": 155}, {"series": "Decay", "time": 9.56, "counts": 108}, {"series": "Decay", "time": 9.64, "counts": 124}, {"series": "Decay", "time": 9.72, "counts": 113}, {"series": "Decay", "time": 9.8, "counts": 134}, {"series": "Decay", "time": 9.88, "counts": 104}, {"series": "Decay", "time": 9.96, "counts": 137}, {"series": "Decay", "time": 10.04, "counts": 105}, {"series": "Decay", "time": 10.12, "counts": 118}, {"series": "Decay", "time": 10.2, "counts": 112}, {"series": "Decay", "time": 10.28, "counts": 89}, {"series": "Decay", "time": 10.36, "counts": 120}, {"series": "Decay", "time": 10.44, "counts": 93}, {"series": "Decay", "time": 10.52, "counts": 105}, {"series": "Decay", "time": 10.6, "counts": 77}, {"series": "Decay", "time": 10.68, "counts": 92}, {"series": "Decay", "time": 10.76, "counts": 102}, {"series": "Decay", "time": 10.84, "counts": 77}, {"series": "Decay", "time": 10.92, "counts": 87}, {"series": "Decay", "time": 11.0, "counts": 63}, {"series": "Decay", "time": 11.08, "counts": 95}, {"series": "Decay", "time": 11.16, "counts": 74}, {"series": "Decay", "time": 11.24, "counts": 100}, {"series": "Decay", "time": 11.32, "counts": 63}, {"series": "Decay", "time": 11.4, "counts": 78}, {"series": "Decay", "time": 11.48, "counts": 55}, {"series": "Decay", "time": 11.56, "counts": 85}, {"series": "Decay", "time": 11.64, "counts": 57}, {"series": "Decay", "time": 11.72, "counts": 62}, {"series": "Decay", "time": 11.8, "counts": 45}, {"series": "Decay", "time": 11.88, "counts": 69}, {"series": "Decay", "time": 11.96, "counts": 59}, {"series": "Decay", "time": 12.04, "counts": 45}, {"series": "Decay", "time": 12.12, "counts": 67}, {"series": "Decay", "time": 12.2, "counts": 48}, {"series": "Decay", "time": 12.28, "counts": 56}, {"series": "Decay", "time": 12.36, "counts": 35}, {"series": "Decay", "time": 12.44, "counts": 57}, {"series": "Decay", "time": 12.52, "counts": 39}, {"series": "Decay", "time": 12.6, "counts": 47}, {"series": "Decay", "time": 12.68, "counts": 55}, {"series": "Decay", "time": 12.76, "counts": 32}, {"series": "Decay", "time": 12.84, "counts": 40}, {"series": "Decay", "time": 12.92, "counts": 34}, {"series": "Decay", "time": 13.0, "counts": 45}, {"series": "Decay", "time": 13.08, "counts": 30}, {"series": "Decay", "time": 13.16, "counts": 47}, {"series": "Decay", "time": 13.24, "counts": 32}, {"series": "Decay", "time": 13.32, "counts": 39}, {"series": "Decay", "time": 13.4, "counts": 36}, {"series": "Decay", "time": 13.48, "counts": 25}, {"series": "Decay", "time": 13.56, "counts": 41}, {"series": "Decay", "time": 13.64, "counts": 28}, {"series": "Decay", "time": 13.72, "counts": 35}, {"series": "Decay", "time": 13.8, "counts": 21}, {"series": "Decay", "time": 13.88, "counts": 29}, {"series": "Decay", "time": 13.96, "counts": 34}, {"series": "Decay", "time": 14.04, "counts": 21}, {"series": "Decay", "time": 14.12, "counts": 29}, {"series": "Decay", "time": 14.2, "counts": 18}, {"series": "Decay", "time": 14.28, "counts": 33}, {"series": "Decay", "time": 14.36, "counts": 23}, {"series": "Decay", "time": 14.44, "counts": 37}, {"series": "Decay", "time": 14.52, "counts": 19}, {"series": "Decay", "time": 14.6, "counts": 27}, {"series": "Decay", "time": 14.68, "counts": 17}, {"series": "Decay", "time": 14.76, "counts": 32}, {"series": "Decay", "time": 14.84, "counts": 19}, {"series": "Decay", "time": 14.92, "counts": 21}, {"series": "Decay", "time": 15.0, "counts": 14}, {"series": "Decay", "time": 15.08, "counts": 26}, {"series": "Decay", "time": 15.16, "counts": 21}, {"series": "Decay", "time": 15.24, "counts": 14}, {"series": "Decay", "time": 15.32, "counts": 26}, {"series": "Decay", "time": 15.4, "counts": 17}, {"series": "Decay", "time": 15.48, "counts": 21}, {"series": "Decay", "time": 15.56, "counts": 11}, {"series": "Decay", "time": 15.64, "counts": 23}, {"series": "Decay", "time": 15.72, "counts": 14}, {"series": "Decay", "time": 15.8, "counts": 18}, {"series": "Decay", "time": 15.88, "counts": 24}, {"series": "Decay", "time": 15.96, "counts": 11}, {"series": "Decay", "time": 16.04, "counts": 15}, {"series": "Decay", "time": 16.12, "counts": 13}, {"series": "Decay", "time": 16.2, "counts": 20}, {"series": "Decay", "time": 16.28, "counts": 11}, {"series": "Decay", "time": 16.36, "counts": 22}, {"series": "Decay", "time": 16.44, "counts": 13}, {"series": "Decay", "time": 16.52, "counts": 17}, {"series": "Decay", "time": 16.6, "counts": 16}, {"series": "Decay", "time": 16.68, "counts": 10}, {"series": "Decay", "time": 16.76, "counts": 20}, {"series": "Decay", "time": 16.84, "counts": 12}, {"series": "Decay", "time": 16.92, "counts": 16}, {"series": "Decay", "time": 17.0, "counts": 9}, {"series": "Decay", "time": 17.08, "counts": 13}, {"series": "Decay", "time": 17.16, "counts": 17}, {"series": "Decay", "time": 17.24, "counts": 10}, {"series": "Decay", "time": 17.32, "counts": 13}, {"series": "Decay", "time": 17.4, "counts": 8}, {"series": "Decay", "time": 17.48, "counts": 15}, {"series": "Decay", "time": 17.56, "counts": 11}, {"series": "Decay", "time": 17.64, "counts": 17}, {"series": "Decay", "time": 17.72, "counts": 9}, {"series": "Decay", "time": 17.8, "counts": 13}, {"series": "Decay", "time": 17.88, "counts": 8}, {"series": "Decay", "time": 17.96, "counts": 15}, {"series": "Decay", "time": 18.04, "counts": 9}, {"series": "Decay", "time": 18.12, "counts": 10}, {"series": "Decay", "time": 18.2, "counts": 7}, {"series": "Decay", "time": 18.28, "counts": 12}, {"series": "Decay", "time": 18.36, "counts": 10}, {"series": "Decay", "time": 18.44, "counts": 7}, {"series": "Decay", "time": 18.52, "counts": 13}, {"series": "Decay", "time": 18.6, "counts": 8}, {"series": "Decay", "time": 18.68, "counts": 10}, {"series": "Decay", "time": 18.76, "counts": 5}, {"series": "Decay", "time": 18.84, "counts": 11}, {"series": "Decay", "time": 18.92, "counts": 6}, {"series": "Decay", "time": 19.0, "counts": 9}, {"series": "Decay", "time": 19.08, "counts": 11}, {"series": "Decay", "time": 19.16, "counts": 5}, {"series": "Decay", "time": 19.24, "counts": 7}, {"series": "Decay", "time": 19.32, "counts": 6}, {"series": "Decay", "time": 19.4, "counts": 9}, {"series": "Decay", "time": 19.48, "counts": 5}, {"series": "Decay", "time": 19.56, "counts": 10}
    ]
  },
  "resolve": {
    "scale": {"color": "independent", "shape": "independent", "size": "independent"},
    "legend": {"color": "independent", "shape": "independent", "size": "independent"}
  },
  "hconcat": [
    {
      "width": 417, "height": 272,
      "title": {"text": "A", "dx": 14, "dy": 48},
      "resolve": {"axis": {"x": "independent", "y": "independent"}},
      "layer": [
        {
          "data": {"name": "A_fit"},
          "mark": {"type": "line", "color": "#3a7bbf", "strokeWidth": 2, "clip": true},
          "encoding": {
            "x": {"field": "time", "type": "quantitative", "scale": {"domain": [-3.45, 14.0], "nice": false, "zero": false}, "axis": {"title": "Time (ns)", "values": [-2, 0, 2, 4, 6, 8, 10, 12], "labelPadding": 1, "titlePadding": 1}},
            "y": {"field": "counts", "type": "quantitative", "scale": {"type": "log", "domain": [0.87, 7950], "nice": false}, "axis": {"title": "Number of Counts", "titlePadding": 5, "values": [1, 2, 3, 4, 5, 6, 7, 8, 9, 10, 20, 30, 40, 50, 60, 70, 80, 90, 100, 200, 300, 400, 500, 600, 700, 800, 900, 1000, 2000, 3000, 4000, 5000, 6000, 7000], "tickSize": {"condition": {"test": "datum.value == 1 || datum.value == 10 || datum.value == 100 || datum.value == 1000", "value": 3.5}, "value": 2}, "labelExpr": "datum.value == 1 ? '10⁰' : datum.value == 10 ? '10¹' : datum.value == 100 ? '10²' : datum.value == 1000 ? '10³' : ''"}}
          }
        },
        {
          "data": {"name": "A_pts"},
          "mark": {"type": "point", "filled": true, "opacity": 1, "strokeWidth": 0, "clip": true},
          "encoding": {
            "x": {"field": "time", "type": "quantitative", "axis": {"orient": "top", "labels": false, "title": null, "values": [-2, 0, 2, 4, 6, 8, 10, 12]}},
            "y": {"field": "counts", "type": "quantitative", "axis": {"orient": "right", "labels": false, "title": null, "values": [1, 10, 100, 1000]}},
            "color": {"field": "series", "type": "nominal", "scale": {"domain": ["Single Exp. Fit", "System Response", "Decay"], "range": ["#3a7bbf", "#000000", "#3a7bbf"]}, "legend": {"title": null}},
            "shape": {"field": "series", "type": "nominal", "scale": {"domain": ["Single Exp. Fit", "System Response", "Decay"], "range": ["M-1,-0.07H1V0.07H-1Z", "circle", "circle"]}, "legend": {"title": null}},
            "size": {"field": "series", "type": "nominal", "scale": {"type": "ordinal", "domain": ["Single Exp. Fit", "System Response", "Decay"], "range": [961, 9, 6]}, "legend": {"title": null}}
          }
        }
      ]
    },
    {
      "width": 420, "height": 275,
      "title": {"text": "B", "dx": 14, "dy": 48},
      "resolve": {"axis": {"x": "independent", "y": "independent"}},
      "layer": [
        {
          "data": {"name": "B_fit"},
          "mark": {"type": "line", "color": "#3a7bbf", "strokeWidth": 2, "clip": true},
          "encoding": {
            "x": {"field": "time", "type": "quantitative", "scale": {"domain": [-3.43, 19.7], "nice": false, "zero": false}, "axis": {"title": "Time (ns)", "values": [0, 5, 10, 15], "labelPadding": 1, "titlePadding": 1}},
            "y": {"field": "counts", "type": "quantitative", "scale": {"type": "log", "domain": [0.87, 7950], "nice": false}, "axis": {"title": "Number of Counts", "titlePadding": 5, "values": [1, 2, 3, 4, 5, 6, 7, 8, 9, 10, 20, 30, 40, 50, 60, 70, 80, 90, 100, 200, 300, 400, 500, 600, 700, 800, 900, 1000, 2000, 3000, 4000, 5000, 6000, 7000], "tickSize": {"condition": {"test": "datum.value == 1 || datum.value == 10 || datum.value == 100 || datum.value == 1000", "value": 3.5}, "value": 2}, "labelExpr": "datum.value == 1 ? '10⁰' : datum.value == 10 ? '10¹' : datum.value == 100 ? '10²' : datum.value == 1000 ? '10³' : ''"}}
          }
        },
        {
          "data": {"name": "B_pts"},
          "mark": {"type": "point", "filled": true, "opacity": 1, "strokeWidth": 0, "clip": true},
          "encoding": {
            "x": {"field": "time", "type": "quantitative", "axis": {"orient": "top", "labels": false, "title": null, "values": [0, 5, 10, 15]}},
            "y": {"field": "counts", "type": "quantitative", "axis": {"orient": "right", "labels": false, "title": null, "values": [1, 10, 100, 1000]}},
            "color": {"field": "series", "type": "nominal", "scale": {"domain": ["Single Exp. Fit", "System Response", "Decay"], "range": ["#3a7bbf", "#000000", "#3a7bbf"]}, "legend": {"title": null}},
            "shape": {"field": "series", "type": "nominal", "scale": {"domain": ["Single Exp. Fit", "System Response", "Decay"], "range": ["M-1,-0.07H1V0.07H-1Z", "circle", "circle"]}, "legend": {"title": null}},
            "size": {"field": "series", "type": "nominal", "scale": {"type": "ordinal", "domain": ["Single Exp. Fit", "System Response", "Decay"], "range": [961, 9, 6]}, "legend": {"title": null}}
          }
        }
      ]
    }
  ]
}
